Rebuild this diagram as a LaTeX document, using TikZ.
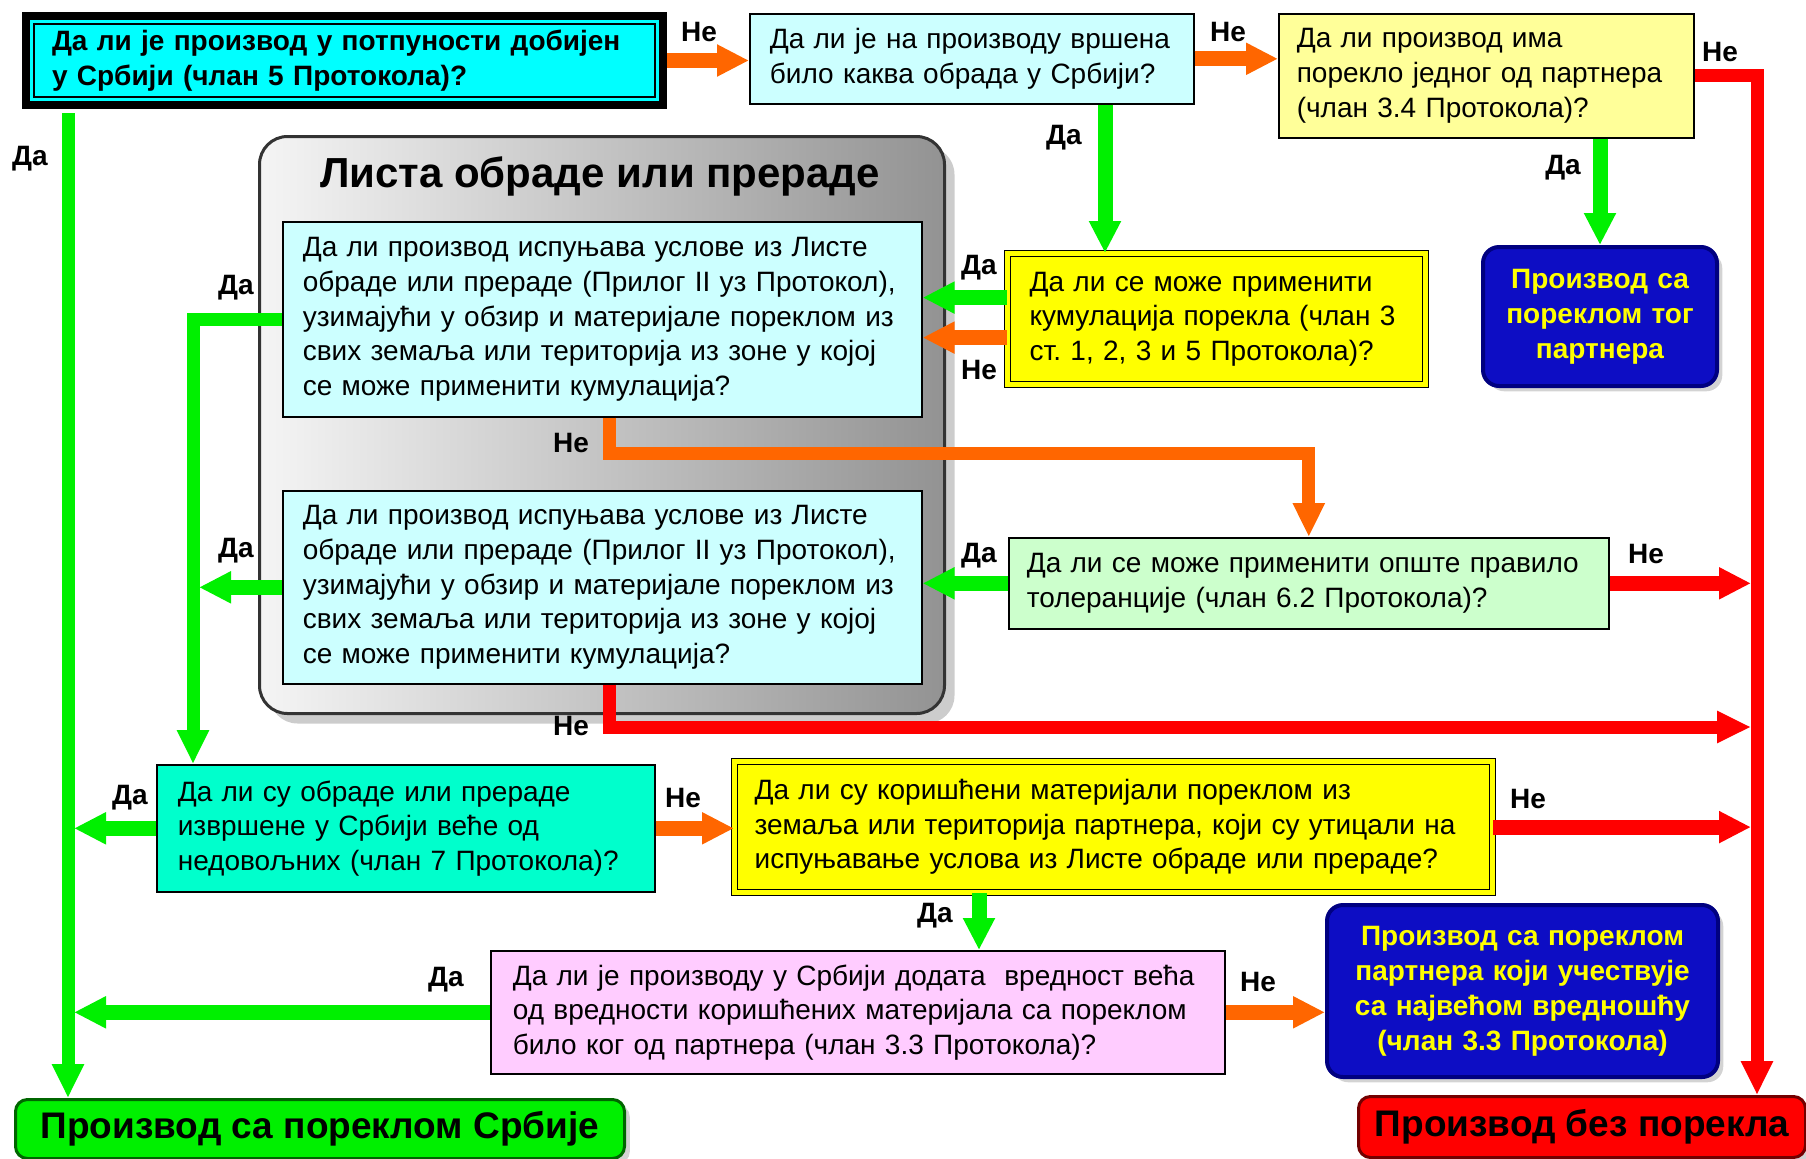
\documentclass[tikz,border=0pt]{standalone}
\usepackage{fontspec}
\setmainfont{Liberation Sans}
\usetikzlibrary{arrows.meta,shadows}
\frenchspacing

\definecolor{qcyan}{HTML}{00FFFF}
\definecolor{qlcyan}{HTML}{CCFFFF}
\definecolor{qlyellow}{HTML}{FFFF99}
\definecolor{qyellow}{HTML}{FFFF00}
\definecolor{qlgreen}{HTML}{CCFFCC}
\definecolor{qaqua}{HTML}{00FFCC}
\definecolor{qpink}{HTML}{FFCCFF}
\definecolor{qblue}{HTML}{0D0DC4}
\definecolor{qnavy}{HTML}{000080}
\definecolor{qgreen}{HTML}{00F000}
\definecolor{qorange}{HTML}{FF6600}
\definecolor{qred}{HTML}{FF0000}

\tikzset{
  qbox/.style={draw=black, line width=0.8pt, anchor=north west, inner xsep=10pt, inner ysep=0pt,
    align=left, font=\fontsize{14}{17.3}\selectfont},
  dbox/.style={qbox, fill=qyellow, double=qyellow, double distance=2.2pt, line width=0.6pt},
  endbox/.style={anchor=north west, rounded corners=8pt, line width=2pt, align=center, inner sep=0pt,
    font=\bfseries\fontsize{14}{17.5}\selectfont, text=qyellow, fill=qblue,
    draw=qnavy, drop shadow={opacity=0.35}},
  resbox/.style={anchor=north west, rounded corners=6pt, line width=1.5pt, inner sep=0pt,
    font=\bfseries\fontsize{18.5}{22}\selectfont, drop shadow={opacity=0.35}},
  panel/.style={anchor=north west, rounded corners=14pt, draw=black!80, line width=1.5pt, inner sep=0pt,
    left color=gray!8, right color=gray!85, drop shadow={shadow xshift=5pt, shadow yshift=-5pt, opacity=0.4}},
  lbl/.style={font=\bfseries\fontsize{14}{16}\selectfont},
  yesarrow/.style={draw=qgreen, line width=7.5pt, -{Triangle[length=16pt,width=15pt]}},
  noarrow/.style={draw=qorange, line width=7.5pt, -{Triangle[length=16pt,width=15pt]}},
  failarrow/.style={draw=qred, line width=7.5pt, -{Triangle[length=16pt,width=15pt]}},
  rail/.style={line width=6.5pt, -{Triangle[length=17pt,width=15pt]}},
}

\begin{document}
\begin{tikzpicture}[x=0.5pt, y=-0.5pt]
  \useasboundingbox (0,0) rectangle (1806,1158);

  % list of working or processing
  \node[panel, minimum width=342.5pt, minimum height=288.5pt] (list) at (258,135) {};
  \node[font=\bfseries\fontsize{21}{25}\selectfont] (listtitle) at (600,176) {Листа обраде или прераде};

  % questions
  \node[qbox, line width=4pt, fill=qcyan, inner xsep=13pt, text width=292.5pt, minimum height=44.5pt,
    font=\bfseries\fontsize{14}{17.3}\selectfont] (whole) at (22,12)
    {Да ли је производ у потпуности добијен\\у Србији (члан 5 Протокола)?};
  \draw[line width=0.8pt] ([shift={(6pt,-6pt)}]whole.north west) rectangle ([shift={(-6pt,6pt)}]whole.south east);
  \node[qbox, fill=qlcyan, text width=202pt, minimum height=45pt] (worked) at (749,13)
    {Да ли је на производу вршена\\било каква обрада у Србији?};
  \node[qbox, fill=qlyellow, inner xsep=9pt, text width=189.5pt, minimum height=62pt] (origin) at (1278,13)
    {Да ли производ има\\порекло једног од партнера\\(члан 3.4 Протокола)?};
  \node[dbox, inner xsep=11pt, text width=187pt, minimum height=65.5pt] (cumul) at (1007,253)
    {Да ли се може применити\\кумулација порекла (члан 3\\ст. 1, 2, 3 и 5 Протокола)?};
  \node[qbox, fill=qlcyan, text width=299.5pt, minimum height=97.5pt] (listfull) at (282,221)
    {Да ли производ испуњава услове из Листе\\обраде или прераде (Прилог II уз Протокол),\\узимајући у обзир и материјале пореклом из\\свих земаља или територија из зоне у којој\\се може применити кумулација?};
  \node[qbox, fill=qlcyan, text width=299.5pt, minimum height=96.5pt] (listtol) at (282,490)
    {Да ли производ испуњава услове из Листе\\обраде или прераде (Прилог II уз Протокол),\\узимајући у обзир и материјале пореклом из\\свих земаља или територија из зоне у којој\\се може применити кумулација?};
  \node[qbox, fill=qlgreen, inner xsep=9pt, text width=282pt, minimum height=45.5pt] (tolerance) at (1008,537)
    {Да ли се може применити опште правило\\толеранције (члан 6.2 Протокола)?};
  \node[qbox, fill=qaqua, inner xsep=10.5pt, text width=228pt, minimum height=63.5pt] (sufficient) at (156,764)
    {Да ли су обраде или прераде\\извршене у Србији веће од\\недовољних (члан 7 Протокола)?};
  \node[dbox, text width=359pt, minimum height=65.5pt] (partnermat) at (734,761)
    {Да ли су коришћени материјали пореклом из\\земаља или територија партнера, који су утицали на\\испуњавање услова из Листе обраде или прераде?};
  \node[qbox, fill=qpink, inner xsep=11pt, text width=345pt, minimum height=61.5pt] (added) at (490,950)
    {Да ли је производу у Србији додата~ вредност већа\\од вредности коришћених материјала са пореклом\\било ког од партнера (члан 3.3 Протокола)?};

  % results
  \node[endbox, text width=117pt, minimum height=69.5pt] (partner) at (1481,245)
    {Производ са\\пореклом тог\\партнера};
  \node[endbox, text width=195.5pt, minimum height=86pt] (highest) at (1325,903)
    {Производ са пореклом\\партнера који учествује\\са највећом вредношћу\\(члан 3.3 Протокола)};
  \node[resbox, fill=qgreen, draw=green!40!black, minimum width=304.5pt, minimum height=29.5pt] (serbia) at (14,1098)
    {Производ са пореклом Србије};
  \node[resbox, fill=qred, draw=red!45!black, minimum width=223.5pt, minimum height=30.5pt] (noorigin) at (1357,1095)
    {Производ без порекла};

  % connectors
  \coordinate (greenline) at (68,0);
  \coordinate (redline) at (1757,0);
  \coordinate (listline) at (193,0);
  \coordinate (bdx) at (1105,0);
  \coordinate (hix) at (979,0);
  \coordinate (bendup) at (609,453);
  \coordinate (benddown) at (609,727);
  \coordinate (cumyes) at ([yshift=10.75pt]cumul.west);
  \coordinate (cumno) at ([yshift=-9.25pt]cumul.west);

  \draw[rail, draw=qgreen] ([yshift=-2pt]whole.south -| greenline) -- (serbia.north -| greenline);
  \draw[rail, draw=qred] (origin.east) -| (noorigin.north -| redline);
  \draw[noarrow] (whole.east) -- (whole.east -| worked.west);
  \draw[noarrow] (worked.east) -- (worked.east -| origin.west);
  \draw[yesarrow] (worked.south -| bdx) -- (cumul.north -| bdx);
  \draw[yesarrow] (origin.south -| partner.north) -- (partner.north);
  \draw[yesarrow] (cumyes) -- (cumyes -| listfull.east);
  \draw[noarrow] (cumno) -- (cumno -| listfull.east);
  \draw[rail, draw=qgreen] (listfull.west) -| (sufficient.north -| listline);
  \draw[rail, draw=qorange] (listfull.south -| bendup) -- (bendup) -| (tolerance.north);
  \draw[yesarrow] (tolerance.west) -- (tolerance.west -| listtol.east);
  \draw[failarrow, shorten >=3pt] (tolerance.east) -- (tolerance.east -| redline);
  \draw[yesarrow, shorten >=3pt] (listtol.west) -- (listtol.west -| listline);
  \draw[rail, draw=qred, shorten >=3pt] (listtol.south -| benddown) -- (benddown) -- (benddown -| redline);
  \draw[yesarrow, shorten >=3pt] (sufficient.west) -- (sufficient.west -| greenline);
  \draw[noarrow] (sufficient.east) -- (sufficient.east -| partnermat.west);
  \draw[failarrow, shorten >=3pt] (partnermat.east) -- (partnermat.east -| redline);
  \draw[yesarrow] (partnermat.south -| hix) -- (added.north -| hix);
  \draw[yesarrow, shorten >=3pt] (added.west) -- (added.west -| greenline);
  \draw[noarrow] (added.east) -- (added.east -| highest.west);

  % labels
  \node[lbl] (n1) at (699,32) {Не};
  \node[lbl] (d1) at (30,159) {Да};
  \node[lbl] (n2) at (1228,32) {Не};
  \node[lbl] (n3) at (1720,52) {Не};
  \node[lbl] (d2) at (1064,138) {Да};
  \node[lbl] (d3) at (1563,168) {Да};
  \node[lbl] (d4) at (979,268) {Да};
  \node[lbl] (n4) at (979,370) {Не};
  \node[lbl] (d5) at (236,288) {Да};
  \node[lbl] (n5) at (571,443) {Не};
  \node[lbl] (d6) at (979,556) {Да};
  \node[lbl] (n6) at (1646,554) {Не};
  \node[lbl] (d7) at (236,551) {Да};
  \node[lbl] (n7) at (571,726) {Не};
  \node[lbl] (d8) at (130,798) {Да};
  \node[lbl] (n8) at (683,798) {Не};
  \node[lbl] (n9) at (1528,799) {Не};
  \node[lbl] (d9) at (935,916) {Да};
  \node[lbl] (d10) at (446,980) {Да};
  \node[lbl] (n10) at (1258,982) {Не};
\end{tikzpicture}
\end{document}
